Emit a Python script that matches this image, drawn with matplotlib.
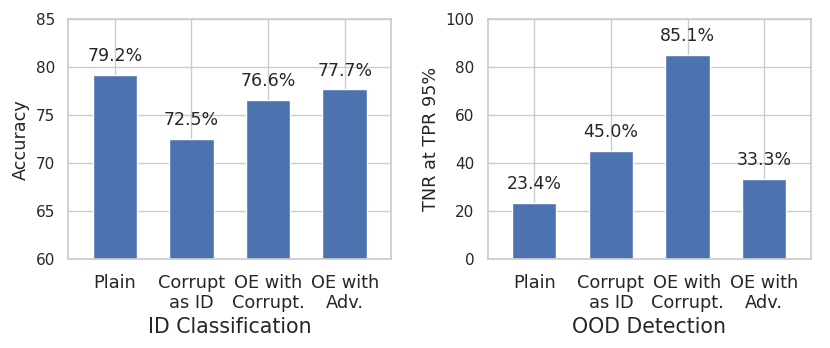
import matplotlib
matplotlib.use("Agg")
import matplotlib.pyplot as plt
import seaborn as sns

sns.set_theme(style="whitegrid")
plt.rcParams['font.family'] = ['DejaVu Sans']

# ---- data ----
methods = ["Plain", "Corrupt\nas ID", "OE with\nCorrupt.", "OE with\nAdv."]
id_acc = [79.2, 72.5, 76.6, 77.7]
ood_tnr = [23.4, 45.0, 85.1, 33.3]

bar_color = "#4C72B0"

fig, (ax1, ax2) = plt.subplots(1, 2, figsize=(8.3, 3.48), dpi=100)

def draw(ax, vals, ylim, yticks, ylabel, xlabel):
    x = range(len(methods))
    ax.bar(x, vals, width=0.58, color=bar_color, zorder=2)
    for xi, v in zip(x, vals):
        ax.annotate(f"{v:.1f}%", (xi, v), xytext=(0, 7), textcoords="offset points",
                    ha="center", va="bottom", fontsize=12.5, color="#262626")
    ax.set_ylim(*ylim)
    ax.set_yticks(yticks)
    ax.set_xlim(-0.61, len(methods) - 1 + 0.61)
    ax.set_xticks(list(x))
    ax.set_xticklabels(methods, fontsize=12.8, linespacing=1.1)
    ax.tick_params(axis="x", pad=5)
    ax.tick_params(axis="y", labelsize=11)
    ax.set_ylabel(ylabel, fontsize=12.7)
    ax.set_xlabel(xlabel, fontsize=14.8, labelpad=4)
    ax.grid(True, color="#cccccc", linewidth=1.0, zorder=0)
    ax.set_axisbelow(True)
    for s in ax.spines.values():
        s.set_color("#cccccc")

draw(ax1, id_acc, (60, 85), [60, 65, 70, 75, 80, 85], "Accuracy", "ID Classification")
draw(ax2, ood_tnr, (0, 100), [0, 20, 40, 60, 80, 100], "TNR at TPR 95%", "OOD Detection")

plt.subplots_adjust(left=0.082, right=0.977, top=0.944, bottom=0.256, wspace=0.297)
plt.savefig("out.png", dpi=100)
